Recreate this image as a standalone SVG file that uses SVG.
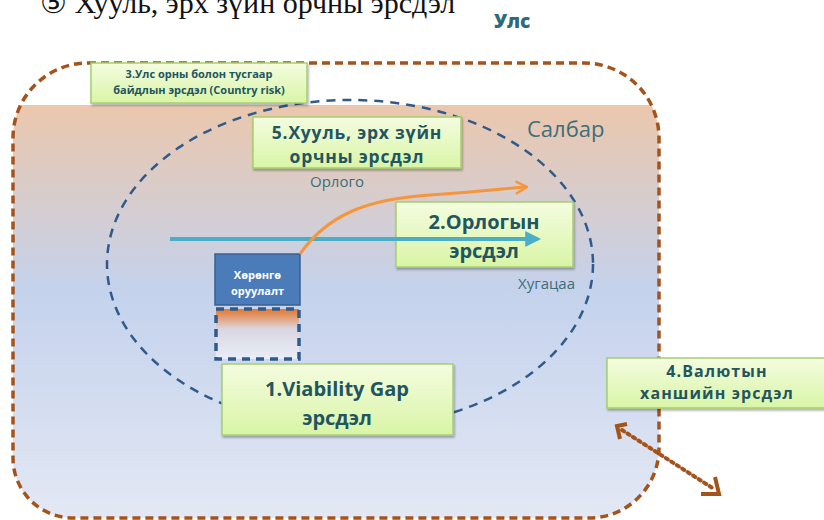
<svg xmlns="http://www.w3.org/2000/svg" width="824" height="520" viewBox="0 0 824 520">
  <defs>
    <linearGradient id="zoneFill" x1="0" y1="105" x2="0" y2="518" gradientUnits="userSpaceOnUse">
      <stop offset="0" stop-color="#ebc7ad"/>
      <stop offset="0.45" stop-color="#c4d2ec"/>
      <stop offset="1" stop-color="#e3e8f4"/>
    </linearGradient>
    <linearGradient id="greenFill" x1="0" y1="0" x2="0" y2="1">
      <stop offset="0" stop-color="#f4fce0"/>
      <stop offset="1" stop-color="#d9f5a6"/>
    </linearGradient>
    <linearGradient id="gapFill" x1="0" y1="0" x2="0" y2="1">
      <stop offset="0" stop-color="#e87526"/>
      <stop offset="0.4" stop-color="#d9d6e2"/>
      <stop offset="1" stop-color="#e9eef8"/>
    </linearGradient>
    <clipPath id="belowBand">
      <rect x="0" y="105" width="824" height="415"/>
    </clipPath>
    <filter id="shadow" x="-10%" y="-20%" width="120%" height="150%">
      <feDropShadow dx="1" dy="2" stdDeviation="1.2" flood-color="#000" flood-opacity="0.3"/>
    </filter>
    <marker id="tealHead" viewBox="0 0 10 10" refX="8" refY="5" markerWidth="4" markerHeight="4" orient="auto" markerUnits="strokeWidth">
      <path d="M0,0 L10,5 L0,10 Z" fill="#4aaec6"/>
    </marker>
    <marker id="orangeHead" viewBox="0 0 12 12" refX="10" refY="6" markerWidth="5" markerHeight="5" orient="auto" markerUnits="strokeWidth">
      <path d="M1,1 L10,6 L1,11" fill="none" stroke="#f5953c" stroke-width="2" stroke-linejoin="round"/>
    </marker>
    <style>
      .box { fill: url(#greenFill); stroke: #a5cf6e; stroke-width: 1.5; filter: url(#shadow); }
      .lbl { font-family: "Open Sans", "Noto Sans", "DejaVu Sans", sans-serif; font-weight: 700; fill: #22555f; text-anchor: middle; }
      .note { font-family: "Open Sans", "Noto Sans", "DejaVu Sans", sans-serif; fill: #3d6e7a; }
      .brown { fill: none; stroke: #a4531b; stroke-width: 3.5; stroke-dasharray: 8 5; }
    </style>
  </defs>

  <!-- heading, cut at the top edge -->
  <text x="40" y="13" font-family="Liberation Serif, 'DejaVu Serif', serif" font-size="30" fill="#111">⑤ Хууль, эрх зүйн орчны эрсдэл</text>

  <!-- country zone -->
  <g id="country">
    <path clip-path="url(#belowBand)" fill="url(#zoneFill)" d="M88,63 H584 A75,75 0 0 1 659,138 V448 A70,70 0 0 1 589,518 H73 A60,60 0 0 1 13,458 V138 A75,75 0 0 1 88,63 Z"/>
    <path class="brown" d="M88,63 H584 A75,75 0 0 1 659,138 V448 A70,70 0 0 1 589,518 H73 A60,60 0 0 1 13,458 V138 A75,75 0 0 1 88,63 Z"/>
    <text x="494" y="28" font-family="'Open Sans', 'Noto Sans', sans-serif" font-weight="800" font-size="19" fill="#2d6a7c">Улс</text>
  </g>

  <!-- sector zone -->
  <g id="sector">
    <ellipse cx="350" cy="264" rx="243" ry="164" fill="none" stroke="#2f5b8c" stroke-width="2.5" stroke-dasharray="9 7"/>
    <text class="note" x="527" y="137" font-size="22">Салбар</text>
    <text class="note" x="310" y="187" font-size="15">Орлого</text>
    <text class="note" x="518" y="289" font-size="15">Хугацаа</text>
  </g>

  <!-- investment block and its gap -->
  <g id="investment">
    <rect x="215" y="254" width="85" height="51" fill="#4b7bb9" stroke="#3a5f8f" stroke-width="1.5"/>
    <text x="257.5" y="279" font-family="'Open Sans', 'Noto Sans', sans-serif" font-weight="700" font-size="11" fill="#fff" text-anchor="middle">Хөрөнгө</text>
    <text x="257.5" y="295" font-family="'Open Sans', 'Noto Sans', sans-serif" font-weight="700" font-size="11" fill="#fff" text-anchor="middle">оруулалт</text>
  </g>
  <g id="gap">
    <rect x="216" y="309" width="83" height="50" fill="url(#gapFill)" stroke="#2f5b8c" stroke-width="3.5" stroke-dasharray="8 6"/>
  </g>

  <!-- risk boxes -->
  <g id="risk3">
    <rect class="box" x="91" y="63" width="216" height="40"/>
    <text class="lbl" x="199" y="78" font-size="11">3.Улс орны болон тусгаар</text>
    <text class="lbl" x="199" y="94" font-size="11">байдлын эрсдэл (Country risk)</text>
  </g>
  <g id="risk5">
    <rect class="box" x="253" y="117" width="208" height="51"/>
    <text class="lbl" x="357" y="139" font-size="17.5" letter-spacing="0.8">5.Хууль, эрх зүйн</text>
    <text class="lbl" x="357" y="163" font-size="17.5" letter-spacing="0.8">орчны эрсдэл</text>
  </g>
  <g id="risk2">
    <rect class="box" x="396" y="202" width="177" height="65"/>
    <text class="lbl" x="484" y="229" font-size="20">2.Орлогын</text>
    <text class="lbl" x="484" y="258" font-size="20">эрсдэл</text>
  </g>
  <g id="risk1">
    <rect class="box" x="222" y="364" width="231" height="71"/>
    <text class="lbl" x="337" y="396" font-size="20">1.Viability Gap</text>
    <text class="lbl" x="337" y="425" font-size="20">эрсдэл</text>
  </g>
  <g id="risk4">
    <rect class="box" x="607" y="358" width="222" height="50"/>
    <text class="lbl" x="717" y="377" font-size="16" letter-spacing="1.1">4.Валютын</text>
    <text class="lbl" x="717" y="399" font-size="16" letter-spacing="1.1">ханшийн эрсдэл</text>
  </g>

  <!-- connectors, drawn over the boxes -->
  <g id="connectors">
    <path d="M170,239 H538" stroke="#4aaec6" stroke-width="4" fill="none" marker-end="url(#tealHead)"/>
    <path d="M300,254 C328,214 368,199 430,195 S505,188 527,187" stroke="#f5953c" stroke-width="3" fill="none" marker-end="url(#orangeHead)"/>
    <path d="M622,430 L714,489" stroke="#a4531b" stroke-width="4" stroke-dasharray="2.5 4" stroke-linecap="round" fill="none"/>
    <path d="M627,424 L617,426 L620,439" stroke="#a4531b" stroke-width="4" fill="none"/>
    <path d="M715,477 L719,494 L701,494" stroke="#a4531b" stroke-width="4" fill="none"/>
  </g>
</svg>
